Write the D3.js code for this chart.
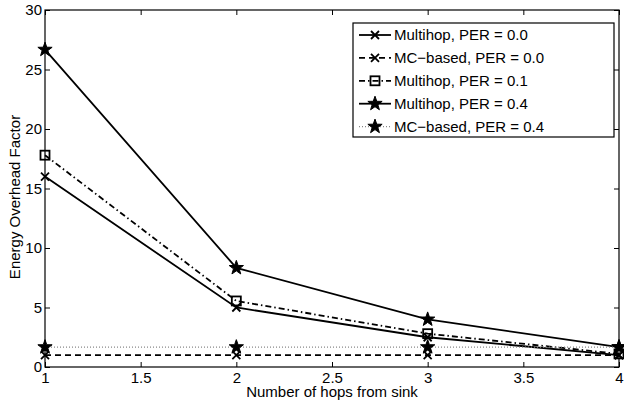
<!DOCTYPE html>
<html>
<head>
<meta charset="utf-8">
<script src="https://cdn.jsdelivr.net/npm/d3@7"></script>
<style>
  html, body { margin: 0; padding: 0; background: #fff; }
  svg { display: block; font-family: "Liberation Sans", Arial, Helvetica, sans-serif; }
</style>
</head>
<body>
<svg id="chart" width="624" height="400"></svg>
<script>
// Hop counts on the x axis
const hops = [1, 2, 3, 4];

// Energy overhead factor for each scheme
const multihopPer00 = [16.0, 5.0, 2.5, 1.0];
const mcPer00 = [1.0, 1.0, 1.0, 1.0];
const multihopPer01 = [17.8, 5.55, 2.8, 1.1];
const multihopPer04 = [26.67, 8.33, 4.0, 1.67];
const mcPer04 = [1.67, 1.67, 1.67, 1.67];

const seriesNames = [
  "Multihop, PER = 0.0",
  "MC\u2212based, PER = 0.0",
  "Multihop, PER = 0.1",
  "Multihop, PER = 0.4",
  "MC\u2212based, PER = 0.4"
];

const xTicks = [1, 1.5, 2, 2.5, 3, 3.5, 4];
const yTicks = [0, 5, 10, 15, 20, 25, 30];

const series = [
  { name: seriesNames[0], values: multihopPer00, dash: null, marker: "x", color: "#000", width: 1.8 },
  { name: seriesNames[1], values: mcPer00, dash: "6,4", marker: "x", color: "#000", width: 1.8 },
  { name: seriesNames[2], values: multihopPer01, dash: "6,3,1.5,3", marker: "square", color: "#000", width: 1.8 },
  { name: seriesNames[3], values: multihopPer04, dash: null, marker: "star", color: "#000", width: 1.8 },
  { name: seriesNames[4], values: mcPer04, dash: "1,2", marker: "star", color: "#888", width: 1.2 }
];

const FONT = 15;
const svg = d3.select("#chart");
const margin = { left: 45, right: 5, top: 10, bottom: 33 };
const W = 624, H = 400;
const x = d3.scaleLinear().domain([1, 4]).range([margin.left, W - margin.right]);
const y = d3.scaleLinear().domain([0, 30]).range([H - margin.bottom, margin.top]);

// Star path centred on the origin
function starPath(R) {
  const r = R * 0.4;
  const pts = [];
  for (let i = 0; i < 10; i++) {
    const a = -Math.PI / 2 + i * Math.PI / 5;
    const rad = i % 2 === 0 ? R : r;
    pts.push([rad * Math.cos(a), rad * Math.sin(a)]);
  }
  return "M" + pts.map(p => p.join(",")).join("L") + "Z";
}

function drawMarker(g, type, cx, cy) {
  if (type === "x") {
    const s = 4;
    g.append("path")
      .attr("d", `M${cx - s},${cy - s}L${cx + s},${cy + s}M${cx - s},${cy + s}L${cx + s},${cy - s}`)
      .attr("stroke", "#000").attr("stroke-width", 1.8).attr("fill", "none");
  } else if (type === "square") {
    const s = 4.5;
    g.append("rect")
      .attr("x", cx - s).attr("y", cy - s).attr("width", 2 * s).attr("height", 2 * s)
      .attr("stroke", "#000").attr("stroke-width", 1.8).attr("fill", "none");
  } else if (type === "star") {
    g.append("path")
      .attr("d", starPath(7.5))
      .attr("transform", `translate(${cx},${cy})`)
      .attr("fill", "#000").attr("stroke", "#000").attr("stroke-width", 1);
  }
}

// Axes box
const plot = svg.append("g");
plot.append("rect")
  .attr("x", x(1)).attr("y", y(30))
  .attr("width", x(4) - x(1)).attr("height", y(0) - y(30))
  .attr("fill", "#fff").attr("stroke", "#000").attr("stroke-width", 1.2);

// Inward ticks on all four sides
const tickLen = 5;
const axisBottom = d3.axisBottom(x).tickValues(xTicks).tickSizeInner(-tickLen).tickSizeOuter(0)
  .tickFormat(d3.format("~g")).tickPadding(5);
const axisTop = d3.axisTop(x).tickValues(xTicks).tickSizeInner(-tickLen).tickSizeOuter(0).tickFormat("");
const axisLeft = d3.axisLeft(y).tickValues(yTicks).tickSizeInner(-tickLen).tickSizeOuter(0).tickPadding(3);
const axisRight = d3.axisRight(y).tickValues(yTicks).tickSizeInner(-tickLen).tickSizeOuter(0).tickFormat("");

function styleAxis(g) {
  g.select(".domain").remove();
  g.selectAll("line").attr("stroke", "#000").attr("stroke-width", 1);
  g.selectAll("text").attr("fill", "#000").style("font-size", FONT + "px")
    .style("font-family", '"Liberation Sans", Arial, sans-serif');
}

svg.append("g").attr("transform", `translate(0,${y(0)})`).call(axisBottom).call(styleAxis);
svg.append("g").attr("transform", `translate(0,${y(30)})`).call(axisTop).call(styleAxis);
svg.append("g").attr("transform", `translate(${x(1)},0)`).call(axisLeft).call(styleAxis);
svg.append("g").attr("transform", `translate(${x(4)},0)`).call(axisRight).call(styleAxis);

// Data lines and markers
const line = d3.line().x((d, i) => x(hops[i])).y(d => y(d));
const marks = svg.append("g");
series.forEach(s => {
  marks.append("path")
    .attr("d", line(s.values))
    .attr("fill", "none")
    .attr("stroke", s.color)
    .attr("stroke-width", s.width)
    .attr("stroke-dasharray", s.dash);
});
series.forEach(s => {
  s.values.forEach((v, i) => drawMarker(marks, s.marker, x(hops[i]), y(v)));
});

// Axis titles
svg.append("text")
  .attr("x", (x(1) + x(4)) / 2).attr("y", 397)
  .attr("text-anchor", "middle")
  .style("font-size", FONT + "px")
  .text("Number of hops from sink");
svg.append("text")
  .attr("transform", `translate(19.5,197) rotate(-90)`)
  .attr("text-anchor", "middle")
  .style("font-size", FONT + "px")
  .text("Energy Overhead Factor");

// Legend
const lg = svg.append("g");
const lx = 353, ly = 23, lw = 261, lh = 114;
lg.append("rect").attr("x", lx).attr("y", ly).attr("width", lw).attr("height", lh)
  .attr("fill", "#fff").attr("stroke", "#000").attr("stroke-width", 1.2);
series.forEach((s, i) => {
  const cy = ly + 12 + i * 22.9;
  lg.append("line")
    .attr("x1", lx + 6).attr("x2", lx + 38).attr("y1", cy).attr("y2", cy)
    .attr("stroke", s.color).attr("stroke-width", s.width)
    .attr("stroke-dasharray", s.dash);
  drawMarker(lg, s.marker, lx + 22, cy);
  lg.append("text")
    .attr("x", lx + 41).attr("y", cy + 5.4)
    .style("font-size", FONT + "px")
    .text(s.name);
});
</script>
</body>
</html>
